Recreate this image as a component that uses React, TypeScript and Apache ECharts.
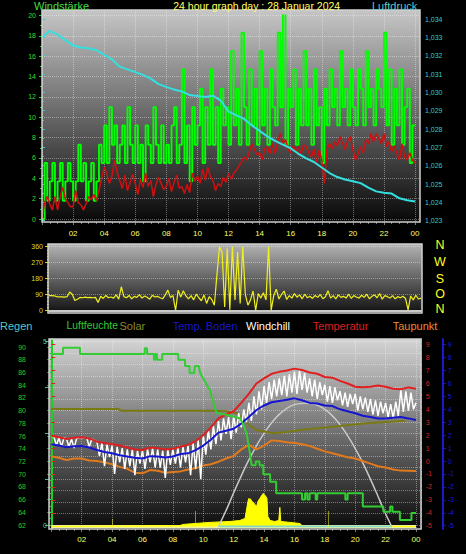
import React, { useEffect, useRef } from "react";
import * as echarts from "echarts";

const FONT = "'Liberation Sans', Arial, sans-serif";

// ---------- top chart: wind (10-min samples) ----------
const gustSpeed = [
  0, 5.5, 1.8, 3.7, 5.5, 1.8,
  3.7, 5.5, 1.8, 3.7, 5.5, 3.7,
  1.8, 3.7, 7.3, 3.7, 5.5, 1.8,
  3.7, 5.5, 1.8, 3.7, 7.3, 5.5,
  9.2, 5.5, 11.0, 7.3, 9.2, 5.5,
  7.3, 9.2, 5.5, 11.0, 7.3, 5.5,
  9.2, 5.5, 7.3, 3.7, 9.2, 7.3,
  5.5, 11.0, 7.3, 5.5, 9.2, 5.5,
  7.3, 5.5, 9.2, 11.0, 5.5, 7.3,
  14.7, 5.5, 9.2, 3.7, 11.0, 7.3,
  9.2, 12.8, 5.5, 11.0, 7.3, 14.7,
  7.3, 11.0, 5.5, 12.8, 9.2, 11.0,
  7.3, 16.5, 9.2, 12.8, 7.3, 18.3,
  11.0, 7.3, 14.7, 9.2, 12.8, 7.3,
  16.5, 9.2, 12.8, 7.3, 14.7, 11.0,
  9.2, 18.3, 11.0, 20.2, 7.3, 12.8,
  11.0, 14.7, 7.3, 12.8, 9.2, 16.5,
  9.2, 12.8, 7.3, 14.7, 9.2, 11.0,
  5.5, 12.8, 9.2, 14.7, 11.0, 12.8,
  9.2, 16.5, 11.0, 12.8, 9.2, 14.7,
  11.0, 9.2, 14.7, 12.8, 9.2, 16.5,
  11.0, 12.8, 9.2, 14.7, 12.8, 11.0,
  18.3, 9.2, 14.7, 7.3, 12.8, 9.2,
  14.7, 7.3, 11.0, 12.8, 5.5, 9.2,
  9.2,
];

const windAverage = [
  0.0, 1.6, 2.2, 1.5, 0.9, 2.2,
  0.9, 2.2, 3.1, 2.0, 1.6, 1.2,
  1.2, 2.8, 1.6, 1.4, 0.9, 1.5,
  2.2, 1.9, 2.4, 1.8, 2.8, 4.0,
  5.1, 4.5, 3.5, 4.2, 5.8, 4.6,
  3.8, 3.0, 4.3, 2.8, 3.6, 4.4,
  3.5, 2.4, 3.9, 3.1, 4.5, 3.2,
  3.8, 2.2, 3.4, 4.1, 3.5, 2.9,
  3.2, 4.0, 2.7, 3.6, 4.3, 3.0,
  3.2, 2.5, 3.4, 2.6, 4.5, 3.7,
  4.2, 3.5, 4.9, 3.8, 5.1, 4.2,
  3.8, 2.8, 3.5, 3.2, 4.1, 3.6,
  4.5, 3.9, 4.5, 4.8, 5.2, 5.6,
  6.1, 5.8, 6.5, 7.4, 6.8, 6.3,
  6.5, 5.8, 6.9, 7.1, 6.4, 7.4,
  6.4, 7.5, 8.4, 7.4, 7.8, 6.8,
  6.5, 7.2, 6.6, 7.1, 6.4, 7.3,
  7.1, 6.5, 6.1, 6.9, 5.5, 6.8,
  5.8, 3.5, 6.8, 7.4, 6.9, 7.6,
  7.2, 8.1, 7.5, 6.8, 7.7, 8.1,
  6.8, 5.8, 6.4, 7.1, 6.5, 7.8,
  7.4, 8.4, 7.6, 8.4, 7.9, 7.4,
  8.4, 7.1, 7.6, 6.6, 7.2, 6.4,
  5.8, 7.4, 6.1, 5.8, 6.5, 5.8,
  5.5,
];

// pressure, 30-min samples
const pressure = [
  1033.0, 1033.35, 1033.15, 1032.85, 1032.55, 1032.45, 1032.4, 1032.3,
  1032.05, 1031.8, 1031.4, 1031.25, 1031.1, 1030.95, 1030.75, 1030.45,
  1030.3, 1030.15, 1030.05, 1029.85, 1029.8, 1029.75, 1029.82, 1029.55,
  1028.95, 1028.75, 1028.55, 1028.2, 1027.9, 1027.6, 1027.35, 1027.15,
  1026.95, 1026.65, 1026.4, 1026.2, 1025.9, 1025.6, 1025.38, 1025.25,
  1025.15, 1025.05, 1024.8, 1024.6, 1024.52, 1024.48, 1024.22, 1024.12,
  1024.05,
];

// ---------- middle chart: wind direction (10-min samples) ----------
const windDirection = [
  84, 84, 83, 78, 77, 77,
  76, 78, 104, 92, 56, 64,
  74, 72, 75, 73, 74, 72,
  74, 45, 80, 68, 85, 72,
  76, 70, 88, 64, 134, 78,
  72, 85, 66, 80, 74, 90,
  70, 82, 75, 64, 86, 76,
  80, 72, 66, 88, 115, 74,
  84, 0, 115, 76, 112, 82,
  66, 84, 60, 92, 72, 55,
  88, 40, 78, 62, 30, 200,
  360, 330, 20, 350, 5, 360,
  60, 330, 40, 360, 90, 30,
  60, 110, 0, 95, 70, 100,
  60, 360, 0, 85, 120, 65,
  90, 110, 62, 84, 70, 95,
  75, 88, 66, 92, 72, 80,
  68, 85, 74, 90, 66, 78,
  112, 70, 84, 65, 88, 74,
  80, 70, 92, 68, 84, 76,
  70, 86, 74, 92, 66, 80,
  88, 72, 96, 64, 84, 78,
  70, 84, 66, 78, 72, 80,
  68, 4, 82, 60, 86, 65,
  70,
];
const compassLetters = ["N", "W", "S", "O", "N"];

// ---------- bottom chart ----------
// 30-min samples
const temperature = [
  1.95, 1.85, 1.7, 1.8, 1.85, 1.75, 1.5, 1.4, 1.3, 1.2, 1.05, 0.9, 0.85,
  1.05, 1.0, 0.9, 0.95, 1.1, 1.25, 1.55, 2.0, 2.6, 3.3, 3.6, 3.85, 4.5,
  5.2, 6.0, 6.4, 6.75, 6.9, 7.0, 7.15, 7.05, 6.85, 6.75, 6.5, 6.45, 6.2,
  6.0, 5.75, 5.7, 5.75, 5.85, 5.75, 5.6, 5.55, 5.7, 5.6,
];
const soilTemperature = [
  1.3, 1.2, 1.07, 1.15, 1.17, 1.05, 0.85, 0.7, 0.6, 0.45, 0.35, 0.25, 0.2,
  0.38, 0.35, 0.28, 0.35, 0.55, 0.6, 0.85, 1.2, 1.65, 2.2, 2.35, 2.5, 2.9,
  3.4, 3.95, 4.3, 4.55, 4.65, 4.75, 4.85, 4.7, 4.5, 4.45, 4.3, 4.25, 4.0,
  3.85, 3.7, 3.5, 3.4, 3.3, 3.3, 3.35, 3.4, 3.3, 3.18,
];
const dewPoint = [
  0.35, 0.25, 0.08, 0.2, 0.2, 0.05, 0.0, -0.1, -0.25, -0.45, -0.6, -0.9,
  -0.95, -0.7, -0.75, -0.9, -0.85, -0.8, -0.65, -0.55, -0.35, -0.25, -0.05,
  0.2, 0.4, 0.9, 1.25, 0.9, 1.2, 1.6, 1.55, 1.45, 1.4, 1.3, 1.17, 0.95,
  0.75, 0.6, 0.45, 0.3, 0.2, 0.0, -0.2, -0.4, -0.5, -0.65, -0.74, -0.75,
  -0.77,
];
// 10-min samples
const windChill = [
  1.9, 1.9, 1.2, 1.8, 1.1, 1.8,
  1.7, 1.1, 1.7, 1.0, 1.75, 1.8,
  1.8, 1.8, 1.8, 1.1, 1.7, 1.6,
  1.5, 0.4, 1.4, -0.4, 1.3, 0.3,
  1.2, -1.0, 1.1, -0.1, 1.0, -0.6,
  0.9, -0.4, 0.9, -1.1, 0.8, -0.2,
  0.8, -0.6, 0.9, -0.1, 1.0, -0.5,
  0.9, -0.5, 0.8, -1.3, 0.9, -0.3,
  0.9, -0.2, 1.0, -0.5, 1.1, -0.1,
  1.2, -1.1, 1.4, -0.6, 1.6, -1.4,
  2.0, 0.5, 2.4, 0.9, 2.7, 1.3,
  3.1, 1.6, 3.3, 2.1, 3.4, 1.7,
  3.5, 2.2, 3.7, 2.6, 4.0, 3.0,
  4.5, 3.1, 5.0, 3.6, 5.4, 4.0,
  5.8, 4.5, 6.1, 4.8, 6.3, 5.0,
  6.4, 5.1, 6.6, 5.0, 6.7, 5.3,
  6.9, 5.2, 7.0, 5.5, 6.8, 5.3,
  6.4, 5.0, 6.3, 4.8, 6.1, 5.1,
  5.9, 4.6, 5.8, 4.5, 5.7, 4.7,
  5.4, 4.3, 5.3, 4.2, 5.2, 4.4,
  5.2, 3.9, 5.0, 4.0, 4.9, 3.8,
  4.8, 3.6, 4.7, 3.5, 4.6, 3.7,
  4.5, 3.4, 4.4, 3.3, 4.6, 3.5,
  5.5, 3.8, 5.4, 3.9, 5.3, 4.0,
  4.5,
];
const oliveTimes = [0, 4.4, 4.6, 10.5, 11.5, 12.2, 12.6, 13.0, 13.5, 14.6, 15.5, 16.4, 18.5, 20.75, 23.3];
const oliveValues = [4.03, 4.03, 3.9, 3.9, 3.85, 3.7, 3.3, 2.8, 2.4, 2.15, 2.25, 2.4, 2.66, 2.92, 3.12];

const humidityTimes = [
  0, 0.77, 0.77, 1.89, 1.89, 6.15, 6.15, 6.3, 6.3, 6.75, 6.75, 6.85, 6.85, 6.95, 6.95, 7.3, 7.3,
  8.36, 8.36, 8.8, 8.8, 9.1, 9.1, 9.4, 9.45, 9.7, 9.8, 10.1, 10.44, 10.77, 10.9, 11.6, 12.4,
  12.6, 12.85, 13.07, 13.18, 13.45, 13.45, 13.7, 13.7, 13.95, 13.95, 14.4, 14.4, 14.8, 14.8,
  16.5, 16.5, 16.7, 16.7, 16.85, 16.85, 17.0, 17.0, 17.4, 17.4, 17.5, 17.5, 19.35, 19.35, 19.5,
  19.5, 20.5, 20.5, 21.85, 21.85, 22.3, 22.3, 22.45, 22.45, 22.94, 22.94, 23.7, 23.7, 24,
];
const humidityValues = [
  88.9, 88.9, 89.9, 89.9, 88.9, 88.9, 89.8, 89.8, 88.9, 88.9, 88.0, 88.0, 88.9, 88.9, 88.0, 88.0, 88.9,
  88.9, 88.0, 88.0, 87.0, 87.0, 85.9, 85.9, 87.0, 87.0, 85.9, 84.6, 83.2, 80.4, 79.6, 79.3, 78.8,
  78.0, 76.4, 73.3, 71.4, 71.4, 72.0, 72.0, 71.4, 71.4, 70.0, 70.0, 68.8, 68.8, 67.0,
  67.0, 66.0, 66.0, 67.0, 67.0, 66.0, 66.0, 67.0, 67.0, 66.0, 66.0, 67.0, 67.0, 66.0, 66.0,
  67.0, 67.0, 64.9, 64.9, 64.1, 64.1, 64.9, 64.9, 64.1, 64.1, 62.8, 62.8, 63.9, 63.9,
];

const solarTimes = [
  0, 8.47, 8.66, 9.45, 10.44, 11.76, 12.4, 12.75, 12.94, 13.0, 13.05, 13.1, 13.2, 13.3, 13.4,
  13.51, 13.6, 13.68, 13.73, 13.8, 13.86, 13.9, 13.95, 14.0, 14.06, 14.12, 14.19, 14.25, 14.4,
  14.7, 14.97, 15.04, 15.1, 15.7, 16.37, 16.5, 16.7, 24,
];
const solarValues = [
  0, 5, 11, 16, 22, 27, 32, 43, 134, 150, 140, 148, 134, 128, 118,
  107, 134, 145, 150, 160, 167, 172, 177, 170, 167, 160, 150, 54, 32,
  27, 32, 102, 27, 22, 16, 5, 0, 0,
];
const solarMaxTimes = [11.0, 11.5, 12.0, 12.5, 13.0, 13.5, 14.0, 14.5, 15.0, 15.5, 16.0, 16.7, 17.4, 17.9, 18.4, 18.9, 19.4, 19.9, 20.4, 20.9, 21.4, 21.9, 22.4];
const solarMaxValues = [0, 85, 180, 270, 355, 430, 497, 553, 598, 630, 650, 658, 650, 630, 598, 553, 497, 430, 355, 270, 180, 85, 0];
const solarMarkTimes = [4.0, 9.45, 18.2];
const solarMarkValues = [40, 85, 85];
const daylightTimes = [11.0, 22.4];

const legendItems = ["Regen", "Luftfeuchte", "Solar", "Temp. Boden", "Windchill", "Temperatur", "Taupunkt"];
const legendColors = ["#55c8c8", "#33cc33", "#8a8a2a", "#1818c8", "#ffffff", "#dd2020", "#e88a35"];
const legendX = [0, 66.5, 119.5, 172.7, 246, 312.7, 392.7];
const legendSize = [11, 10.4, 11, 11, 11, 11, 11];

// ---------- helpers ----------
const evenly = (values: number[]) => values.map((v, i) => [(i * 24) / (values.length - 1), v]);
const paired = (times: number[], values: number[]) => times.map((t, i) => [t, values[i]]);
const hourLabel = (v: number) => (v === 0 ? "" : String(v % 24).padStart(2, "0"));

const dotted = { type: "dotted", color: "rgba(255,255,255,0.38)", width: 1 };

function hiddenX(gridIndex: number) {
  return { type: "value", gridIndex, min: 0, max: 24, show: false };
}

function lineSeries(name: string, xi: number, yi: number, data: any[], color: string, width: number, extra: any = {}) {
  return {
    name,
    type: "line",
    xAxisIndex: xi,
    yAxisIndex: yi,
    data,
    showSymbol: false,
    symbol: "none",
    silent: true,
    lineStyle: { color, width },
    itemStyle: { color },
    ...extra,
  };
}

function buildOption(): any {
  const grad = (a: string, b: string) =>
    new echarts.graphic.LinearGradient(0, 0, 0, 1, [
      { offset: 0, color: a },
      { offset: 1, color: b },
    ]);
  const axisFont = { fontFamily: FONT, fontSize: 7 };

  const grids = [
    { left: 42, top: 10, width: 373, height: 212 }, // 0 top background / x labels
    { left: 42, top: 15.5, width: 373, height: 203.5 }, // 1 wind
    { left: 42, top: 19, width: 373, height: 201.7 }, // 2 pressure
    { left: 49, top: 246.7, width: 372, height: 63.8 }, // 3 wind direction
    { left: 51.3, top: 339, width: 364.7, height: 190 }, // 4 bottom background / x labels
    { left: 49, top: 341.7, width: 372, height: 183.3 }, // 5 rain
    { left: 51.3, top: 347, width: 364.7, height: 178 }, // 6 humidity
    { left: 51.3, top: 344.7, width: 364.7, height: 181 }, // 7 temperatures
    { left: 51.3, top: 339, width: 364.7, height: 187.5 }, // 8 solar
    { left: 42, top: 15.5, width: 378, height: 203.5 }, // 9 top horizontal lines
  ].map((g) => ({ ...g, show: false, containLabel: false, outerBoundsMode: "none" }));

  const xAxes: any[] = [
    {
      type: "value", gridIndex: 0, min: 0, max: 24, interval: 2,
      axisLine: { show: false },
      axisTick: { show: true, length: 3, lineStyle: { color: "#777" } },
      minorTick: { show: true, splitNumber: 4, length: 2, lineStyle: { color: "#777" } },
      axisLabel: { color: "#ffff66", fontSize: 8, fontFamily: FONT, margin: 7, formatter: hourLabel },
      splitLine: { show: true, lineStyle: dotted },
    },
    hiddenX(1),
    hiddenX(2),
    {
      type: "value", gridIndex: 3, min: 0, max: 24,
      axisLine: { show: true, lineStyle: { color: "#c8c8c8", width: 2 } },
      axisTick: { show: false }, axisLabel: { show: false }, splitLine: { show: false },
    },
    {
      type: "value", gridIndex: 4, min: 0, max: 24, interval: 2,
      axisLine: { show: false },
      axisTick: { show: true, length: 3, lineStyle: { color: "#777" } },
      minorTick: { show: true, splitNumber: 4, length: 2, lineStyle: { color: "#777" } },
      axisLabel: { color: "#ffff66", fontSize: 8, fontFamily: FONT, margin: 6, formatter: hourLabel },
      splitLine: { show: true, lineStyle: dotted },
    },
    hiddenX(5),
    hiddenX(6),
    hiddenX(7),
    hiddenX(8),
    hiddenX(9),
  ];

  const yAxes: any[] = [
    { type: "value", gridIndex: 0, min: 0, max: 1, show: false },
    {
      type: "value", gridIndex: 1, min: 0, max: 20, interval: 2, position: "left", offset: 2,
      axisLine: { show: false },
      axisTick: { show: true, length: 3, lineStyle: { color: "#22cc22" } },
      minorTick: { show: true, splitNumber: 2, length: 2, lineStyle: { color: "#22cc22" } },
      axisLabel: { color: "#33dd33", margin: 4, ...axisFont },
      splitLine: { show: false },
    },
    {
      type: "value", gridIndex: 2, min: 1023, max: 1034, interval: 1, position: "right", offset: 7,
      axisLine: { show: false },
      axisTick: { show: true, length: 3, lineStyle: { color: "#33cccc" } },
      minorTick: { show: true, splitNumber: 2, length: 2, lineStyle: { color: "#33cccc" } },
      axisLabel: { color: "#33cccc", margin: 3, ...axisFont },
      splitLine: { show: false },
    },
    {
      type: "value", gridIndex: 3, min: 0, max: 360, interval: 90, position: "left", offset: 2,
      axisLine: { show: false },
      axisTick: { show: true, length: 4, lineStyle: { color: "#cccc22" } },
      minorTick: { show: true, splitNumber: 5, length: 2, lineStyle: { color: "#cccc22" } },
      axisLabel: { color: "#dddd33", margin: 4, ...axisFont },
      splitLine: { show: true, lineStyle: dotted },
    },
    {
      type: "value", gridIndex: 4, min: 0, max: 1, position: "left", offset: 21.3,
      axisLine: { show: true, lineStyle: { color: "#22cc22", width: 2 } },
      axisTick: { show: false }, axisLabel: { show: false }, splitLine: { show: false },
    },
    {
      type: "value", gridIndex: 4, min: 0, max: 1, position: "right", offset: 5.7,
      axisLine: { show: true, lineStyle: { color: "#ee3030", width: 1, type: "dashed" } },
      axisTick: { show: false }, axisLabel: { show: false }, splitLine: { show: false },
    },
    {
      type: "value", gridIndex: 4, min: 0, max: 1, position: "right", offset: 26.7,
      axisLine: { show: true, lineStyle: { color: "#1a1acc", width: 2 } },
      axisTick: { show: false }, axisLabel: { show: false }, splitLine: { show: false },
    },
    {
      type: "value", gridIndex: 5, min: 0, max: 5, interval: 1.25, position: "left", offset: 0,
      axisLine: { show: false },
      axisTick: { show: true, length: 4, lineStyle: { color: "#33bbbb" } },
      minorTick: { show: false, splitNumber: 4 },
      axisLabel: { color: "#44cccc", margin: 2, ...axisFont, formatter: (v: number) => (v === 0 || v === 5 ? String(v) : "") },
      splitLine: { show: true, lineStyle: dotted },
      minorSplitLine: { show: true, lineStyle: dotted },
    },
    {
      type: "value", gridIndex: 6, min: 62, max: 90, interval: 2, position: "left", offset: 21.3,
      axisLine: { show: false },
      axisTick: { show: true, length: 4, lineStyle: { color: "#22cc22" } },
      minorTick: { show: true, splitNumber: 2, length: 2, lineStyle: { color: "#22cc22" } },
      axisLabel: { color: "#22cc22", margin: 4, ...axisFont },
      splitLine: { show: false },
    },
    {
      type: "value", gridIndex: 7, min: -5, max: 9, interval: 1, position: "right", offset: 5.7,
      axisLine: { show: false },
      axisTick: { show: true, length: 4, lineStyle: { color: "#dd2222" } },
      axisLabel: { color: "#dd2222", margin: 4, ...axisFont },
      splitLine: { show: false },
    },
    {
      type: "value", gridIndex: 7, min: -5, max: 9, interval: 1, position: "right", offset: 26.7,
      axisLine: { show: false },
      axisTick: { show: true, length: 3, lineStyle: { color: "#1a1acc" } },
      axisLabel: { color: "#1a1acc", margin: 5, ...axisFont },
      splitLine: { show: false },
    },
    { type: "value", gridIndex: 8, min: 0, max: 1000, show: false },
    {
      type: "value", gridIndex: 9, min: 0, max: 20, interval: 2,
      axisLine: { show: false }, axisTick: { show: false }, axisLabel: { show: false },
      splitLine: { show: true, lineStyle: dotted },
    },
  ];

  const series: any[] = [
    // top
    lineSeries("Böen", 1, 1, evenly(gustSpeed), "#00ff00", 1.9, { step: "end", z: 3 }),
    lineSeries("Wind", 1, 1, evenly(windAverage), "#d01010", 1.5, { z: 4 }),
    lineSeries("Luftdruck", 2, 2, evenly(pressure), "#33e0e0", 2, { z: 5 }),
    // middle
    lineSeries("Windrichtung", 3, 3, evenly(windDirection), "#f0f020", 1.2, { z: 3 }),
    // bottom
    lineSeries("Tageslicht", 8, 11, [[0, 0], [24, 0]], "#f2f29a", 3, { z: 2 }),
    lineSeries("Solar", 8, 11, paired(solarTimes, solarValues), "#ffff00", 1, {
      z: 3,
      areaStyle: { color: "#ffff00", opacity: 1 },
      markLine: {
        symbol: "none",
        silent: true,
        label: { show: false },
        lineStyle: { type: "dotted", color: "#ffff22", width: 1 },
        data: solarMarkTimes.map((t, i) => [{ coord: [t, 0] }, { coord: [t, solarMarkValues[i]] }]),
      },
    }),
    lineSeries("Tag", 8, 11, paired(daylightTimes, [0, 0]), "#7fd8c8", 2, { z: 3 }),
    lineSeries("Solar max", 8, 11, paired(solarMaxTimes, solarMaxValues), "#c8c8c8", 1.5, { smooth: true, z: 3 }),
    lineSeries("Solar Linie", 7, 9, paired(oliveTimes, oliveValues), "#7a7a14", 2, { z: 4 }),
    lineSeries("Taupunkt", 7, 9, evenly(dewPoint), "#e07a1e", 2, { z: 5 }),
    lineSeries("Windchill", 7, 9, evenly(windChill), "#ffffff", 1.5, { z: 5 }),
    lineSeries("Temp. Boden", 7, 9, evenly(soilTemperature), "#1515d0", 2, { z: 6 }),
    lineSeries("Temperatur", 7, 9, evenly(temperature), "#e02020", 2, { z: 7 }),
    lineSeries("Luftfeuchte", 6, 8, paired(humidityTimes, humidityValues), "#33cc33", 2, { z: 8 }),
  ];

  const text = (x: number, y: number, s: string, color: string, size: number, align = "left") => ({
    type: "text",
    x,
    y,
    z: 60,
    silent: true,
    style: {
      text: s,
      fill: color,
      font: `${size}px ${FONT}`,
      fontSize: size,
      fontFamily: FONT,
      align,
      textAlign: align,
      verticalAlign: "middle",
      textVerticalAlign: "middle",
    },
  });

  const nwsonY = [245, 261.5, 278.5, 294, 309];

  const graphic: any[] = [
    { type: "rect", z: -10, silent: true, shape: { x: 42, y: 10, width: 378, height: 212 }, style: { fill: grad("#c6c6c6", "#080808") } },
    { type: "rect", z: -10, silent: true, shape: { x: 48, y: 244, width: 374, height: 69 }, style: { fill: grad("#b4b4b4", "#101010") } },
    { type: "rect", z: -10, silent: true, shape: { x: 49, y: 339, width: 372, height: 190 }, style: { fill: grad("#d4d4d4", "#0a0a0a") } },
    { type: "rect", z: 50, silent: true, shape: { x: 42, y: 10, width: 378, height: 212 }, style: { fill: "none", stroke: "#d0d0d0", lineWidth: 1.5 } },
    { type: "rect", z: 50, silent: true, shape: { x: 48, y: 244, width: 374, height: 69 }, style: { fill: "none", stroke: "#d0d0d0", lineWidth: 1.5 } },
    { type: "rect", z: 50, silent: true, shape: { x: 49, y: 339, width: 372, height: 190 }, style: { fill: "none", stroke: "#d0d0d0", lineWidth: 1.5 } },
    text(256.7, 5.5, "24 hour graph day : 28 Januar 2024", "#ffff66", 10.5, "center"),
    text(34, 5.5, "Windstärke", "#44dd44", 11),
    text(372, 5.5, "Luftdruck", "#55cccc", 11),
    ...compassLetters.map((l, i) => text(440, nwsonY[i], l, "#ffff22", 12.5, "center")),
    ...legendItems.map((l, i) => text(legendX[i], 325.5, l, legendColors[i], legendSize[i])),
  ];

  return {
    animation: false,
    backgroundColor: "#000000",
    textStyle: { fontFamily: FONT },
    grid: grids,
    xAxis: xAxes,
    yAxis: yAxes,
    series,
    graphic,
  };
}

export default function App() {
  const ref = useRef<HTMLDivElement>(null);
  useEffect(() => {
    document.body.style.margin = "0";
    document.body.style.background = "#000";
    const chart = echarts.init(ref.current!, null, { renderer: "svg", width: 466, height: 554 });
    chart.setOption(buildOption());
    return () => chart.dispose();
  }, []);
  return (
    <div
      ref={ref}
      style={{ position: "fixed", left: 0, top: 0, width: 466, height: 554, background: "#000" }}
    />
  );
}
